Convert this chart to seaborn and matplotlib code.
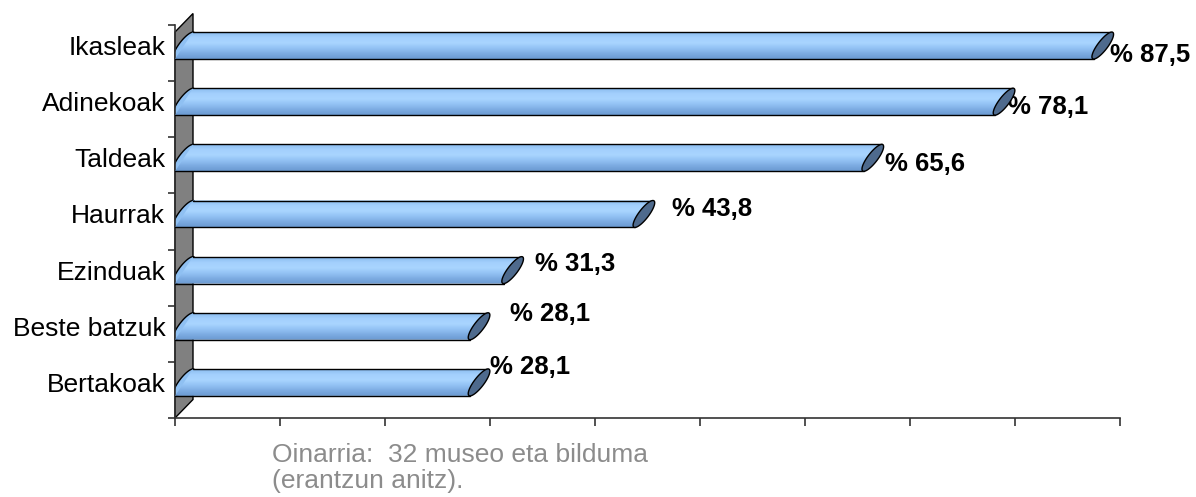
import numpy as np
import pandas as pd
import matplotlib
matplotlib.use("Agg")
import matplotlib.pyplot as plt
from matplotlib.patches import Polygon
from matplotlib.colors import LinearSegmentedColormap
import seaborn as sns

categories = ["Ikasleak", "Adinekoak", "Taldeak", "Haurrak", "Ezinduak", "Beste batzuk", "Bertakoak"]
values = [87.5, 78.1, 65.6, 43.8, 31.3, 28.1, 28.1]
value_labels = ["% 87,5", "% 78,1", "% 65,6", "% 43,8", "% 31,3", "% 28,1", "% 28,1"]
# label offsets in pixels (dx right, dy down) from bar end / bar centre
label_dx = [16, 13, 21, 37, 31, 40, 20]
label_dy = [7, 3, 4, -7, -8, -14, -17]
note = ["Oinarria:  32 museo eta bilduma", "(erantzun anitz)."]

sns.set_style("white")
plt.rcParams["font.family"] = ["Liberation Sans", "DejaVu Sans"]

W, H = 1196, 497
fig = plt.figure(figsize=(W / 100, H / 100), dpi=100)
ax_l, ax_r, ax_t, ax_b = 175, 1120, 25, 418
ax = fig.add_axes([ax_l / W, 1 - ax_b / H, (ax_r - ax_l) / W, (ax_b - ax_t) / H])

df = pd.DataFrame({"cat": categories, "val": values})
sns.barplot(data=df, x="val", y="cat", orient="h", width=0.48, color="#8fc0f2", ax=ax)

n = len(categories)
shift = 0.134
ylim = (n - 0.5 + shift, -0.5 + shift)
ax.set_xlim(0, 90)
ax.set_ylim(*ylim)

xpp = 90 / (ax_r - ax_l)       # data units per pixel (x)
ypp = n / (ax_b - ax_t)        # data units per pixel (y)
d = 18 * xpp
dyw = 18.5 * ypp
s2 = 6 * xpp

cmap = LinearSegmentedColormap.from_list(
    "cyl", ["#8bbcef", "#a3d0fd", "#a9d5ff", "#93c2f4", "#7dace2", "#6b9ad2"])
grad = np.linspace(0, 1, 64).reshape(-1, 1)

bars = list(ax.patches)

# grey side wall
y_front_bot = ylim[0]
y_front_top = ylim[1] + 7 * ypp
wall = Polygon([(0, y_front_bot), (0, y_front_top), (d, y_front_top - dyw), (d, y_front_bot - dyw)],
               closed=True, facecolor="#808080", edgecolor="black", lw=1, clip_on=False, zorder=1)
ax.add_patch(wall)

t = np.linspace(0, 2 * np.pi, 120)
for i, bar in enumerate(bars):
    bar.set_visible(False)
    v = bar.get_width()
    yc = bar.get_y() + bar.get_height() / 2
    h = bar.get_height()
    top, bot = yc - h / 2, yc + h / 2

    # left cap
    cx = d / 2
    lc = Polygon(np.column_stack([cx + s2 * np.cos(t) + d / 2 * np.sin(t), yc - h / 2 * np.sin(t)]),
                 closed=True, facecolor="#8fc0f2", edgecolor="black", lw=1, zorder=2)
    ax.add_patch(lc)

    body = Polygon([(0, bot), (v, bot), (v + d, top), (d, top)], closed=True,
                   facecolor="none", edgecolor="none", zorder=3)
    ax.add_patch(body)
    im = ax.imshow(grad, extent=[0, v + d, bot, top], aspect="auto", cmap=cmap,
                   origin="upper", zorder=3, interpolation="bilinear")
    im.set_clip_path(body)
    ax.plot([0, v], [bot, bot], color="black", lw=1, zorder=4)
    ax.plot([d, v + d], [top, top], color="black", lw=1, zorder=4)

    # end cap
    cx = v + d / 2
    ec = Polygon(np.column_stack([cx + s2 * np.cos(t) + d / 2 * np.sin(t), yc - h / 2 * np.sin(t)]),
                 closed=True, facecolor="#4e6a8d", edgecolor="black", lw=1, zorder=5)
    ax.add_patch(ec)

    ax.annotate(value_labels[i], xy=(v, yc), xytext=(label_dx[i], -(label_dy[i] + 9)),
                textcoords="offset pixels", ha="left", va="baseline",
                fontsize=18.5, fontweight="bold", color="black", annotation_clip=False)

ax.set_xlim(0, 90)
ax.set_ylim(*ylim)
ax.set_xlabel("")
ax.set_ylabel("")
ax.set_xticks(np.arange(0, 91, 10))
ax.set_xticklabels([])
ax.set_yticks(np.arange(n))
ax.set_yticklabels(categories, fontsize=19, color="black")
ax.set_yticks(np.arange(n + 1) - 0.5 + shift, minor=True)
ax.tick_params(axis="y", which="major", length=0, pad=7)
ax.tick_params(axis="y", which="minor", length=5, width=1.2, color="#333333", direction="out", left=True)
ax.tick_params(axis="x", length=6, width=1.2, color="#333333", direction="out", bottom=True)
for sp in ["top", "right"]:
    ax.spines[sp].set_visible(False)
for sp in ["left", "bottom"]:
    ax.spines[sp].set_color("#333333")
    ax.spines[sp].set_linewidth(1.2)

fig.text(272 / W, 1 - 462 / H, note[0], fontsize=19, color="#8c8c8c", ha="left", va="baseline")
fig.text(272 / W, 1 - 488 / H, note[1], fontsize=19, color="#8c8c8c", ha="left", va="baseline")

fig.savefig("out.png", dpi=100)
